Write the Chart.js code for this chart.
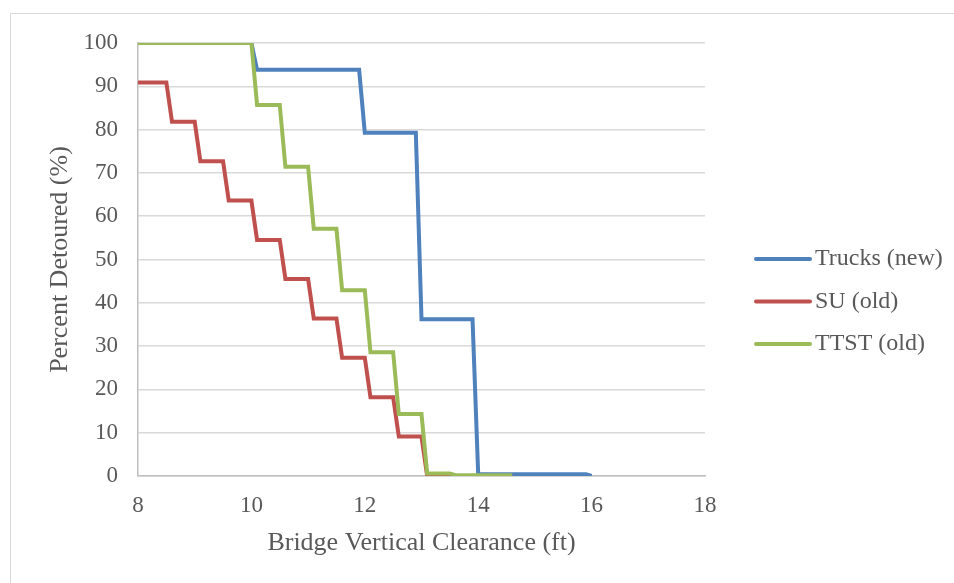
<!DOCTYPE html>
<html>
<head>
<meta charset="utf-8">
<title>Percent Detoured vs Bridge Vertical Clearance</title>
<script src="https://cdn.jsdelivr.net/npm/chart.js@4.4.1/dist/chart.umd.min.js"></script>
<style>
    html, body { margin: 0; padding: 0; background: #ffffff; }
    #wrap { position: relative; width: 954px; height: 583px; }
</style>
</head>
<body>
<div id="wrap">
    <canvas id="detourChart" width="954" height="583"></canvas>
</div>
<script>
// clearance (ft) / percent detoured pairs for each vehicle group
const trucksNew = [
    [8, 100], [10, 100], [10.1, 93.8], [11.9, 93.8], [12, 79.3], [12.9, 79.3],
    [13, 36.2], [13.9, 36.2], [14, 0.4], [15.9, 0.4], [16, 0]
];
const suOld = [
    [8, 90.9], [8.5, 90.9], [8.6, 81.8], [9, 81.8], [9.1, 72.7], [9.5, 72.7],
    [9.6, 63.6], [10, 63.6], [10.1, 54.5], [10.5, 54.5], [10.6, 45.5], [11, 45.5],
    [11.1, 36.4], [11.5, 36.4], [11.6, 27.3], [12, 27.3], [12.1, 18.2], [12.5, 18.2],
    [12.6, 9.1], [13, 9.1], [13.1, 0], [14.6, 0]
];
const ttstOld = [
    [8, 100], [10, 100], [10.1, 85.7], [10.5, 85.7], [10.6, 71.4], [11, 71.4],
    [11.1, 57.1], [11.5, 57.1], [11.6, 42.9], [12, 42.9], [12.1, 28.6], [12.5, 28.6],
    [12.6, 14.3], [13, 14.3], [13.1, 0.6], [13.5, 0.6], [13.6, 0.2], [14.6, 0.2]
];
const seriesNames = ["Trucks (new)", "SU (old)", "TTST (old)"];
const seriesColors = ["#4f81bd", "#c0504d", "#9bbb59"];

const xTicks = [8, 10, 12, 14, 16, 18];
const yTicks = [0, 10, 20, 30, 40, 50, 60, 70, 80, 90, 100];

const textColor = "#595959";
const serif = "'Liberation Serif', 'Times New Roman', serif";

const toPoints = arr => arr.map(p => ({ x: p[0], y: p[1] }));

// light frame around the whole figure
const framePlugin = {
    id: 'frame',
    beforeDraw(chart) {
        const ctx = chart.ctx;
        ctx.save();
        ctx.strokeStyle = "#d9d9d9";
        ctx.lineWidth = 1;
        ctx.beginPath();
        ctx.moveTo(10.5, chart.height + 2);
        ctx.lineTo(10.5, 13.5);
        ctx.lineTo(chart.width + 2, 13.5);
        ctx.stroke();
        ctx.restore();
    }
};

// legend on the right: short line + label per series
const sideLegend = {
    id: 'sideLegend',
    afterDraw(chart) {
        const ctx = chart.ctx;
        const x0 = 756, x1 = 810, top = 259, gap = 42.5;
        ctx.save();
        ctx.font = "24px " + serif;
        ctx.textBaseline = "middle";
        ctx.textAlign = "left";
        chart.data.datasets.forEach((ds, i) => {
            const y = top + i * gap;
            ctx.strokeStyle = ds.borderColor;
            ctx.lineWidth = 4;
            ctx.lineCap = "round";
            ctx.beginPath();
            ctx.moveTo(x0, y);
            ctx.lineTo(x1, y);
            ctx.stroke();
            ctx.fillStyle = textColor;
            ctx.fillText(ds.label, x1 + 5, y);
        });
        ctx.restore();
    }
};

const allSeries = [trucksNew, suOld, ttstOld];

const chart = new Chart(document.getElementById('detourChart'), {
    type: 'scatter',
    data: {
        datasets: allSeries.map((s, i) => ({
            label: seriesNames[i],
            data: toPoints(s),
            showLine: true,
            borderColor: seriesColors[i],
            backgroundColor: seriesColors[i],
            borderWidth: 4,
            pointRadius: 0,
            pointHoverRadius: 0,
            tension: 0,
            fill: false,
            // later series sit on top, like the original spreadsheet chart
            order: allSeries.length - 1 - i
        }))
    },
    options: {
        responsive: false,
        animation: false,
        events: [],
        layout: {
            padding: { top: 43, right: 249, bottom: 0, left: 0 }
        },
        plugins: {
            legend: { display: false },
            tooltip: { enabled: false }
        },
        scales: {
            x: {
                type: 'linear',
                min: 8,
                max: 18,
                afterBuildTicks: axis => { axis.ticks = xTicks.map(v => ({ value: v })); },
                afterFit: axis => { axis.height = 107; },
                grid: { display: false, drawTicks: false },
                border: { color: "#bfbfbf", width: 1.5 },
                ticks: {
                    color: textColor,
                    font: { family: serif, size: 23 },
                    padding: 16,
                    maxRotation: 0
                },
                title: {
                    display: true,
                    text: "Bridge Vertical Clearance (ft)",
                    color: textColor,
                    font: { family: serif, size: 26 },
                    padding: { top: 0, bottom: 24 }
                }
            },
            y: {
                type: 'linear',
                min: 0,
                max: 100,
                afterBuildTicks: axis => { axis.ticks = yTicks.map(v => ({ value: v })); },
                afterFit: axis => { axis.width = 138; },
                grid: { color: "#d9d9d9", lineWidth: 1.5, drawTicks: false },
                border: { color: "#bfbfbf", width: 1.5 },
                ticks: {
                    color: textColor,
                    font: { family: serif, size: 23 },
                    padding: 20
                },
                title: {
                    display: true,
                    text: "Percent Detoured (%)",
                    color: textColor,
                    font: { family: serif, size: 26 },
                    padding: { top: 45, bottom: 0 }
                }
            }
        }
    },
    plugins: [framePlugin, sideLegend]
});
</script>
</body>
</html>
